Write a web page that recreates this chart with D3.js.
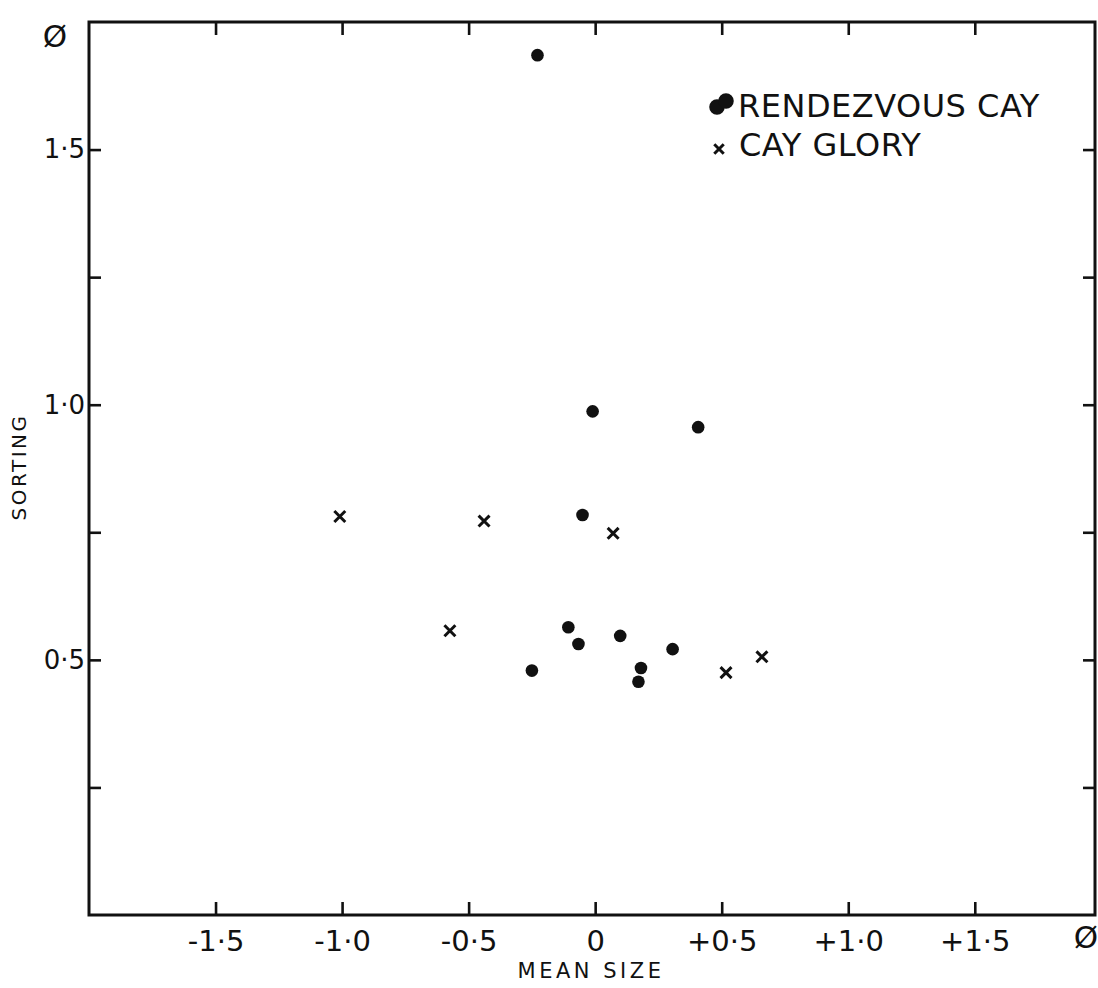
<!DOCTYPE html>
<html>
<head>
<meta charset="utf-8">
<script src="https://cdn.jsdelivr.net/npm/d3@7"></script>
<style>
  body { margin: 0; background: #fff; }
  svg { display: block; }
  .lbl { font-family: "DejaVu Sans", sans-serif; fill: #111; }
  .tick line { stroke: #111; stroke-width: 2.6; }
</style>
</head>
<body>
<svg id="chart"></svg>
<script>
// Rendezvous Cay samples (dots): mean size, sorting (phi units)
const rendezvousX = [-0.228, -0.01, 0.407, -0.05, -0.106, -0.066, 0.099, 0.306, -0.25, 0.181, 0.171];
const rendezvousY = [1.685, 0.987, 0.956, 0.784, 0.564, 0.531, 0.547, 0.521, 0.479, 0.484, 0.457];

// Cay Glory samples (crosses)
const gloryX = [-1.009, -0.439, 0.071, -0.574, 0.517, 0.659];
const gloryY = [0.781, 0.772, 0.748, 0.557, 0.475, 0.506];

// ticks and labels
const xTicks = [-1.5, -1.0, -0.5, 0, 0.5, 1.0, 1.5];
const xTickLabels = ["-1·5", "-1·0", "-0·5", "0", "+0·5", "+1·0", "+1·5"];
const yTicks = [0.25, 0.5, 0.75, 1.0, 1.25, 1.5];
const yTickLabels = ["", "0·5", "", "1·0", "", "1·5"];

const legendNames = ["RENDEZVOUS CAY", "CAY GLORY"];

const width = 1098, height = 988;
const frame = { left: 89, right: 1095, top: 22, bottom: 915 };

const svg = d3.select("#chart")
    .attr("width", width)
    .attr("height", height);

const x = d3.scaleLinear().domain([-2, 1.975]).range([frame.left, frame.right]);
const y = d3.scaleLinear().domain([0, 1.75]).range([frame.bottom, frame.top]);

// frame
svg.append("rect")
    .attr("x", frame.left)
    .attr("y", frame.top)
    .attr("width", frame.right - frame.left)
    .attr("height", frame.bottom - frame.top)
    .attr("fill", "none")
    .attr("stroke", "#111")
    .attr("stroke-width", 3);

// bottom axis with labels
const xAxis = svg.append("g")
    .attr("transform", `translate(0,${frame.bottom})`)
    .call(d3.axisBottom(x).tickValues(xTicks).tickSize(-13).tickPadding(15)
        .tickFormat((d, i) => xTickLabels[i]));
xAxis.select(".domain").remove();
xAxis.selectAll("text").attr("class", "lbl").style("font-size", "29px");

// top axis, ticks only
const xTop = svg.append("g")
    .attr("transform", `translate(0,${frame.top})`)
    .call(d3.axisTop(x).tickValues(xTicks).tickSize(-13).tickFormat(""));
xTop.select(".domain").remove();

// left axis
const yAxis = svg.append("g")
    .attr("transform", `translate(${frame.left},0)`)
    .call(d3.axisLeft(y).tickValues(yTicks).tickSize(-12).tickPadding(4)
        .tickFormat((d, i) => yTickLabels[i]));
yAxis.select(".domain").remove();
yAxis.selectAll("text").attr("class", "lbl").style("font-size", "26px");

// right axis, ticks only
const yRight = svg.append("g")
    .attr("transform", `translate(${frame.right},0)`)
    .call(d3.axisRight(y).tickValues(yTicks).tickSize(-12).tickFormat(""));
yRight.select(".domain").remove();

// unit symbols
svg.append("text").attr("class", "lbl")
    .attr("x", 55).attr("y", 47)
    .attr("text-anchor", "middle")
    .style("font-size", "31px")
    .text("Ø");
svg.append("text").attr("class", "lbl")
    .attr("x", 1086).attr("y", 948)
    .attr("text-anchor", "middle")
    .style("font-size", "31px")
    .text("Ø");

// axis titles
svg.append("text").attr("class", "lbl")
    .attr("x", 591).attr("y", 978)
    .attr("text-anchor", "middle")
    .style("font-size", "21px")
    .style("letter-spacing", "3.5px")
    .text("MEAN SIZE");

svg.append("text").attr("class", "lbl")
    .attr("transform", "translate(26,467) rotate(-90)")
    .attr("text-anchor", "middle")
    .style("font-size", "20px")
    .style("letter-spacing", "2.5px")
    .text("SORTING");

// points
const dotSym = d3.symbol(d3.symbolCircle, 125);
const crossSym = d3.symbol(d3.symbolX, 80);

svg.append("g").selectAll("path")
    .data(d3.range(rendezvousX.length))
    .join("path")
    .attr("d", dotSym)
    .attr("transform", i => `translate(${x(rendezvousX[i])},${y(rendezvousY[i])})`)
    .attr("fill", "#111");

svg.append("g").selectAll("path")
    .data(d3.range(gloryX.length))
    .join("path")
    .attr("d", crossSym)
    .attr("transform", i => `translate(${x(gloryX[i])},${y(gloryY[i])})`)
    .attr("fill", "none")
    .attr("stroke", "#111")
    .attr("stroke-width", 3);

// legend
const legend = svg.append("g");
legend.append("path").attr("d", d3.symbol(d3.symbolCircle, 190))
    .attr("transform", "translate(717,107)").attr("fill", "#111");
legend.append("path").attr("d", d3.symbol(d3.symbolCircle, 190))
    .attr("transform", "translate(726,101)").attr("fill", "#111");
legend.append("text").attr("class", "lbl")
    .attr("x", 738).attr("y", 117)
    .style("font-size", "32px")
    .style("letter-spacing", "0.5px")
    .text(legendNames[0]);

legend.append("path").attr("d", d3.symbol(d3.symbolX, 60))
    .attr("transform", "translate(719,149)")
    .attr("fill", "none").attr("stroke", "#111").attr("stroke-width", 3);
legend.append("text").attr("class", "lbl")
    .attr("x", 739).attr("y", 156)
    .style("font-size", "32px")
    .style("letter-spacing", "0.5px")
    .text(legendNames[1]);
</script>
</body>
</html>
